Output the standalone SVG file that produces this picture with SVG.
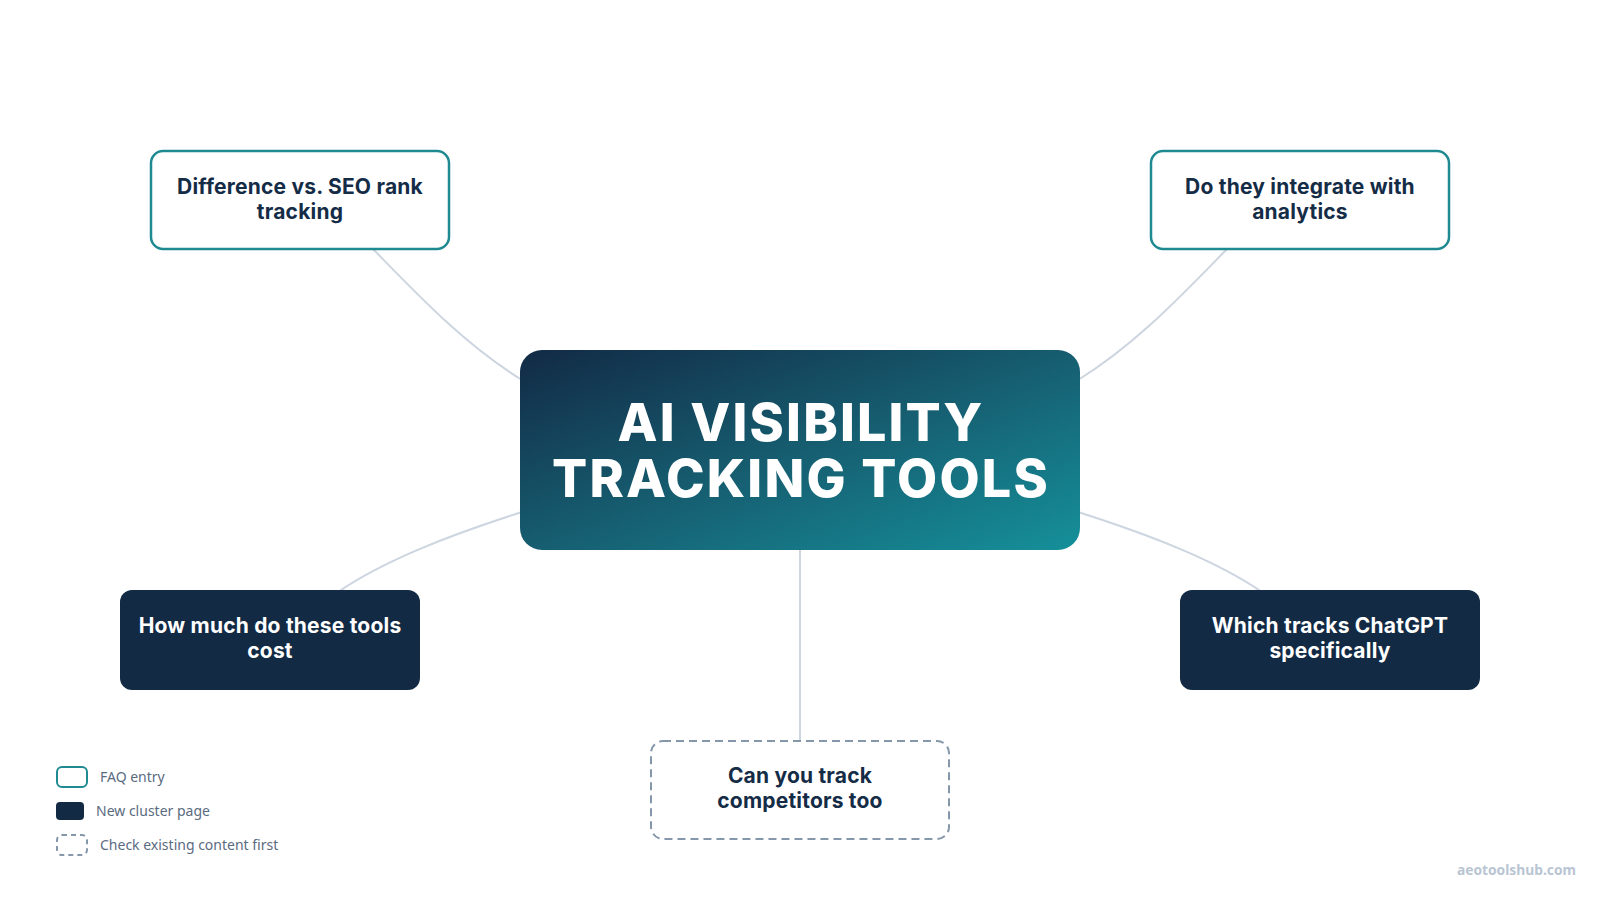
<svg xmlns="http://www.w3.org/2000/svg" width="1600" height="900" viewBox="0 0 1600 900">
<defs>
<linearGradient id="hub" x1="0" y1="0" x2="1" y2="1">
<stop offset="0" stop-color="#122a45"/>
<stop offset="0.5" stop-color="#165d70"/>
<stop offset="1" stop-color="#15909a"/>
</linearGradient>
<style>
.bg{fill:#ffffff}
.conn{fill:none;stroke:#cdd5e0;stroke-width:2}
.faq{fill:#ffffff;stroke:#1f8a91;stroke-width:2.5}
.cluster{fill:#122a44}
.check{fill:#ffffff;stroke:#8597aa;stroke-width:2;stroke-dasharray:8 5}
.lbl{font-family:Inter,"Liberation Sans",sans-serif;font-weight:700;font-size:21px;letter-spacing:0.2px;text-anchor:middle}
.dark{fill:#152c47}
.light{fill:#ffffff}
.title{font-family:Inter,"Liberation Sans",sans-serif;font-weight:800;font-size:52px;letter-spacing:2.2px;fill:#ffffff;text-anchor:middle}
.leg{font-family:"Noto Sans","Liberation Sans",sans-serif;font-size:14px;fill:#5b6b7f}
.wm{font-family:"Noto Sans","Liberation Sans",sans-serif;font-weight:700;font-size:13.8px;fill:#b9c5d3;text-anchor:end}
</style>
</defs>
<rect class="bg" x="0" y="0" width="1600" height="900"/>
<g id="connectors">
<path class="conn" d="M372,248 C420,297 465,345 522,380"/>
<path class="conn" d="M1228,248 C1180,297 1135,345 1078,380"/>
<path class="conn" d="M522,512 C450,535 385,560 338,592"/>
<path class="conn" d="M1078,512 C1150,535 1215,560 1262,592"/>
<path class="conn" d="M800,548 L800,742"/>
</g>
<g id="hub-node">
<rect x="520" y="350" width="560" height="200" rx="22" fill="url(#hub)"/>
<text class="title"><tspan x="801" y="441">AI VISIBILITY</tspan><tspan x="801" y="497">TRACKING TOOLS</tspan></text>
</g>
<g id="node-difference">
<rect class="faq" x="151" y="151" width="298" height="98" rx="12"/>
<text class="lbl dark"><tspan x="300" y="194">Difference vs. SEO rank</tspan><tspan x="300" y="219">tracking</tspan></text>
</g>
<g id="node-integrate">
<rect class="faq" x="1151" y="151" width="298" height="98" rx="12"/>
<text class="lbl dark"><tspan x="1300" y="194">Do they integrate with</tspan><tspan x="1300" y="219">analytics</tspan></text>
</g>
<g id="node-cost">
<rect class="cluster" x="120" y="590" width="300" height="100" rx="12"/>
<text class="lbl light"><tspan x="270" y="633">How much do these tools</tspan><tspan x="270" y="658">cost</tspan></text>
</g>
<g id="node-chatgpt">
<rect class="cluster" x="1180" y="590" width="300" height="100" rx="12"/>
<text class="lbl light"><tspan x="1330" y="633">Which tracks ChatGPT</tspan><tspan x="1330" y="658">specifically</tspan></text>
</g>
<g id="node-competitors">
<rect class="check" x="651" y="741" width="298" height="98" rx="12"/>
<text class="lbl dark"><tspan x="800" y="783">Can you track</tspan><tspan x="800" y="808">competitors too</tspan></text>
</g>
<g id="legend">
<rect class="faq" x="57" y="767" width="30" height="20" rx="5" style="stroke-width:2"/>
<text class="leg" x="100" y="782">FAQ entry</text>
<rect class="cluster" x="56" y="802" width="28" height="18" rx="4"/>
<text class="leg" x="96" y="816">New cluster page</text>
<rect class="check" x="57" y="835" width="30" height="20" rx="5" style="stroke-dasharray:5 4"/>
<text class="leg" x="100" y="850">Check existing content first</text>
</g>
<text class="wm" x="1576" y="875">aeotoolshub.com</text>
</svg>
